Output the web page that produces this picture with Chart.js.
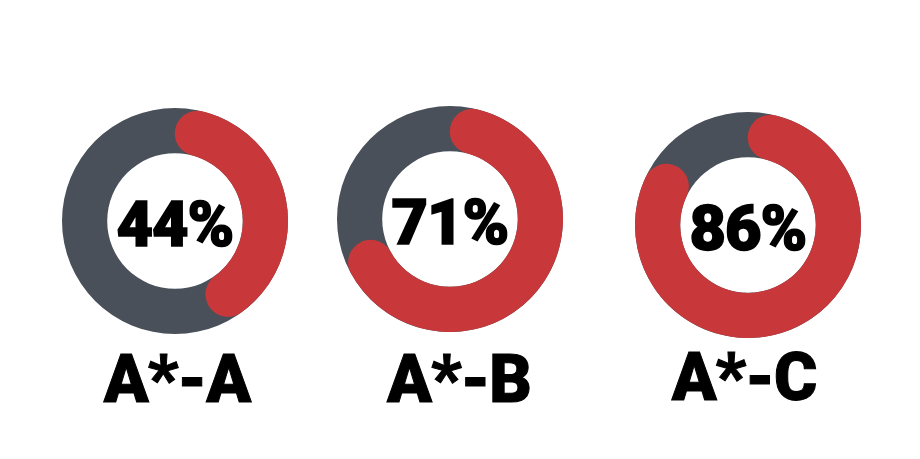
<!DOCTYPE html>
<html>
<head>
<meta charset="utf-8">
<script src="https://cdn.jsdelivr.net/npm/chart.js@4.4.1/dist/chart.umd.min.js"></script>
<style>
	html, body { margin: 0; padding: 0; background: #fff; }
	body { width: 920px; height: 459px; position: relative; overflow: hidden; font-family: "Roboto", "Inter", sans-serif; }
	.ring { position: absolute; width: 226px; height: 226px; }
	.ring canvas { position: absolute; left: 0; top: 0; }
	.pct { position: absolute; width: 226px; text-align: center; font-weight: 900; font-size: 63px; line-height: 1; color: #000; letter-spacing: -1px; -webkit-text-stroke: 1.6px #000; }
	.label { position: absolute; width: 260px; text-align: center; font-weight: 900; font-size: 66px; line-height: 1; color: #000; letter-spacing: -1px; -webkit-text-stroke: 1px #000; }
</style>
</head>
<body>
<script>
"use strict";

// data
var categories = ['A*-A', 'A*-B', 'A*-C'];
var percents = [44, 71, 86];

// layout of each panel (ring centre and label centre)
var centersX = [175, 450, 748];
var centersY = [221, 219, 225];
var labelX = [177, 459, 744];
var labelY = [380, 380, 378];

var redColor = '#c8383a';
var greyColor = '#495059';
var ringSize = 226;

function MakeDoughnut(canvas, values, colors, radii) {
	return new Chart(canvas, {
		type: 'doughnut',
		data: {
			labels: values.map(function (v, i) { return 'seg' + i; }),
			datasets: [{
				data: values,
				backgroundColor: colors,
				borderWidth: 0,
				borderRadius: radii
			}]
		},
		options: {
			responsive: false,
			animation: false,
			events: [],
			cutout: '60%',
			layout: { padding: 0 },
			plugins: {
				legend: { display: false },
				tooltip: { enabled: false }
			}
		}
	});
}

categories.forEach(function (cat, i) {
	var box = document.createElement('div');
	box.className = 'ring';
	box.style.left = (centersX[i] - ringSize / 2) + 'px';
	box.style.top = (centersY[i] - ringSize / 2) + 'px';
	document.body.appendChild(box);

	var back = document.createElement('canvas');
	back.width = ringSize; back.height = ringSize;
	box.appendChild(back);
	var front = document.createElement('canvas');
	front.width = ringSize; front.height = ringSize;
	box.appendChild(front);

	MakeDoughnut(back, [100], [greyColor], [0]);
	MakeDoughnut(front, [percents[i], 100 - percents[i]], [redColor, 'rgba(0,0,0,0)'], [23, 0]);

	var pct = document.createElement('div');
	pct.className = 'pct';
	pct.textContent = percents[i] + '%';
	pct.style.left = (centersX[i] - ringSize / 2) + 'px';
	pct.style.top = (centersY[i] - 28) + 'px';
	document.body.appendChild(pct);

	var lab = document.createElement('div');
	lab.className = 'label';
	lab.textContent = cat;
	lab.style.left = (labelX[i] - 130) + 'px';
	lab.style.top = (labelY[i] - 33) + 'px';
	document.body.appendChild(lab);
});
</script>
</body>
</html>
